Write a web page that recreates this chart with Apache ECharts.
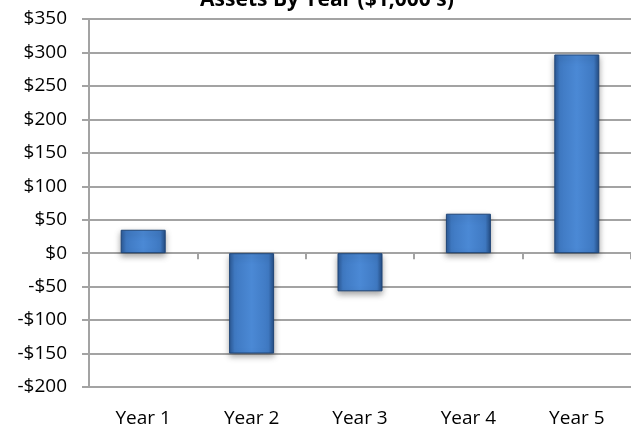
<!DOCTYPE html>
<html>
<head>
<meta charset="utf-8">
<script src="https://cdn.jsdelivr.net/npm/echarts@6/dist/echarts.min.js"></script>
<style>html,body{margin:0;padding:0;background:#fff;}#c{width:631px;height:429px;}</style>
</head>
<body>
<div id="c"></div>
<script>
const categories = ['Year 1', 'Year 2', 'Year 3', 'Year 4', 'Year 5'];
const assets = [35, -150, -57, 59, 297];
const titleText = "Assets By Year ($1,000's)";
const yMin = -200, yMax = 350, yStep = 50;

const chart = echarts.init(document.getElementById('c'), null, {renderer: 'canvas'});
const font = '"Open Sans", "DejaVu Sans", sans-serif';
const gridColor = '#a3a3a3';
const barColor = {
  type: 'linear', x: 0, y: 0, x2: 1, y2: 0,
  colorStops: [
    {offset: 0, color: '#2c5a97'},
    {offset: 0.12, color: '#3f79c2'},
    {offset: 0.5, color: '#4b89d5'},
    {offset: 0.88, color: '#3f79c2'},
    {offset: 1, color: '#244d84'}
  ]
};
chart.setOption({
  animation: false,
  backgroundColor: '#ffffff',
  title: {
    text: titleText, left: 322, textAlign: 'center', top: -15,
    textStyle: {fontFamily: font, fontSize: 21, fontWeight: 'bold', color: '#000'}
  },
  grid: {left: 89, top: 19, width: 544, height: 368, containLabel: false},
  xAxis: [{
    type: 'category', data: categories,
    axisLine: {onZero: true, lineStyle: {color: gridColor, width: 2}},
    axisTick: {show: true, alignWithLabel: false, length: 6, inside: false, lineStyle: {color: gridColor, width: 2}},
    axisLabel: {show: false}
  }, {
    type: 'category', data: categories, position: 'bottom',
    axisLine: {show: false, onZero: false}, axisTick: {show: false},
    axisLabel: {margin: 22, fontFamily: font, fontSize: 19, color: '#000'}
  }],
  yAxis: {
    type: 'value', min: yMin, max: yMax, interval: yStep,
    axisLine: {show: true, lineStyle: {color: gridColor, width: 2}},
    axisTick: {show: true, length: 7, lineStyle: {color: gridColor, width: 2}},
    splitLine: {lineStyle: {color: gridColor, width: 2}},
    axisLabel: {
      margin: 22, fontFamily: font, fontSize: 19, color: '#000',
      formatter: v => (v < 0 ? '-$' + Math.abs(v) : '$' + v)
    }
  },
  series: [{
    type: 'bar', data: assets, xAxisIndex: 0, barWidth: 45,
    itemStyle: {
      color: barColor, borderColor: '#1f4577', borderWidth: 1,
      shadowColor: 'rgba(0,0,0,0.35)', shadowBlur: 6, shadowOffsetY: 3
    }
  }]
});
</script>
</body>
</html>
